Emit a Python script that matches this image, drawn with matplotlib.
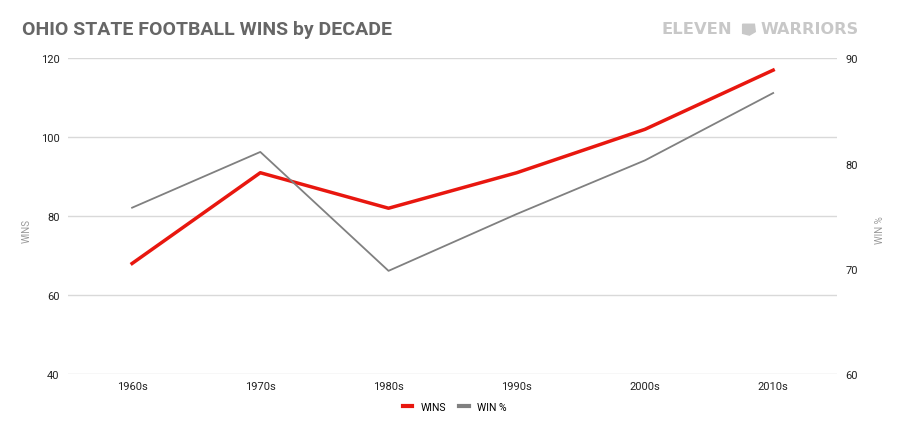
import matplotlib
matplotlib.use("Agg")
import matplotlib.pyplot as plt
from matplotlib.patches import Polygon

plt.rcParams['font.family'] = ['Roboto', 'DejaVu Sans']

# Data
decades = ['1960s', '1970s', '1980s', '1990s', '2000s', '2010s']
wins = [68, 91, 82, 91, 102, 117]
win_pct = [75.8, 81.1, 69.8, 75.2, 80.3, 86.7]

wins_ticks = [40, 60, 80, 100, 120]
pct_ticks = [60, 70, 80, 90]

RED = '#e8170f'
GRAY = '#808080'
TICK = '#222222'
LOGO = '#c8c8c8'


def plot_wins():
    """Plot Ohio State wins and win % by decade on two axes."""

    fig = plt.figure(figsize=(9.04, 4.35), dpi=100)
    ax = fig.add_axes([0.0752, 0.138, 0.851, 0.7257])
    ax2 = ax.twinx()

    x = range(len(decades))
    ax.plot(x, wins, color=RED, lw=2.5, label='WINS', zorder=3)
    ax2.plot(x, win_pct, color=GRAY, lw=1.3, label='WIN %', zorder=2)

    ax.set_xlim(-0.5, len(decades) - 0.5)
    ax.set_ylim(40, 120)
    ax2.set_ylim(60, 90)
    ax.set_yticks(wins_ticks)
    ax2.set_yticks(pct_ticks)
    ax.set_xticks(list(x), decades)

    ax.grid(axis='y', color='#d9d9d9', lw=1)
    ax.set_axisbelow(True)
    for a in (ax, ax2):
        for s in a.spines.values():
            s.set_visible(False)
        a.tick_params(length=0, labelsize=8, colors=TICK)
    ax.tick_params(axis='y', pad=6)
    ax.tick_params(axis='x', pad=5)
    ax2.tick_params(axis='y', pad=6)

    fig.text(0.030, 0.47, 'WINS', rotation=90, fontsize=7, color='#9a9a9a',
             ha='center', va='center')
    fig.text(0.973, 0.47, 'WIN %', rotation=90, fontsize=7, color='#9a9a9a',
             ha='center', va='center')

    # Title and logo
    fig.text(0.024, 0.931, 'OHIO STATE FOOTBALL WINS by DECADE',
             fontsize=14, fontweight='bold', color='#666666', va='center')
    fig.text(0.7315, 0.932, 'ELEVEN', fontsize=11.8, fontweight='bold',
             color=LOGO, va='center', family='DejaVu Sans')
    fig.text(0.950, 0.932, 'WARRIORS', fontsize=11.6, fontweight='bold',
             color=LOGO, va='center', ha='right', family='DejaVu Sans')
    ohio = Polygon([[0.8215, 0.942], [0.8345, 0.942], [0.8355, 0.925],
                    [0.829, 0.917], [0.8215, 0.921]],
                   closed=True, transform=fig.transFigure, color=LOGO)
    fig.patches.append(ohio)

    h1, l1 = ax.get_legend_handles_labels()
    h2, l2 = ax2.get_legend_handles_labels()
    leg = fig.legend(h1 + h2, l1 + l2, loc='center', ncol=2,
                     bbox_to_anchor=(0.503, 0.063), frameon=False,
                     fontsize=7.5, handlelength=0.9, handletextpad=0.8,
                     columnspacing=1.3)
    for line in leg.get_lines():
        line.set_linewidth(3)

    fig.savefig('out.png', dpi=100)


if __name__ == "__main__":
    plot_wins()
